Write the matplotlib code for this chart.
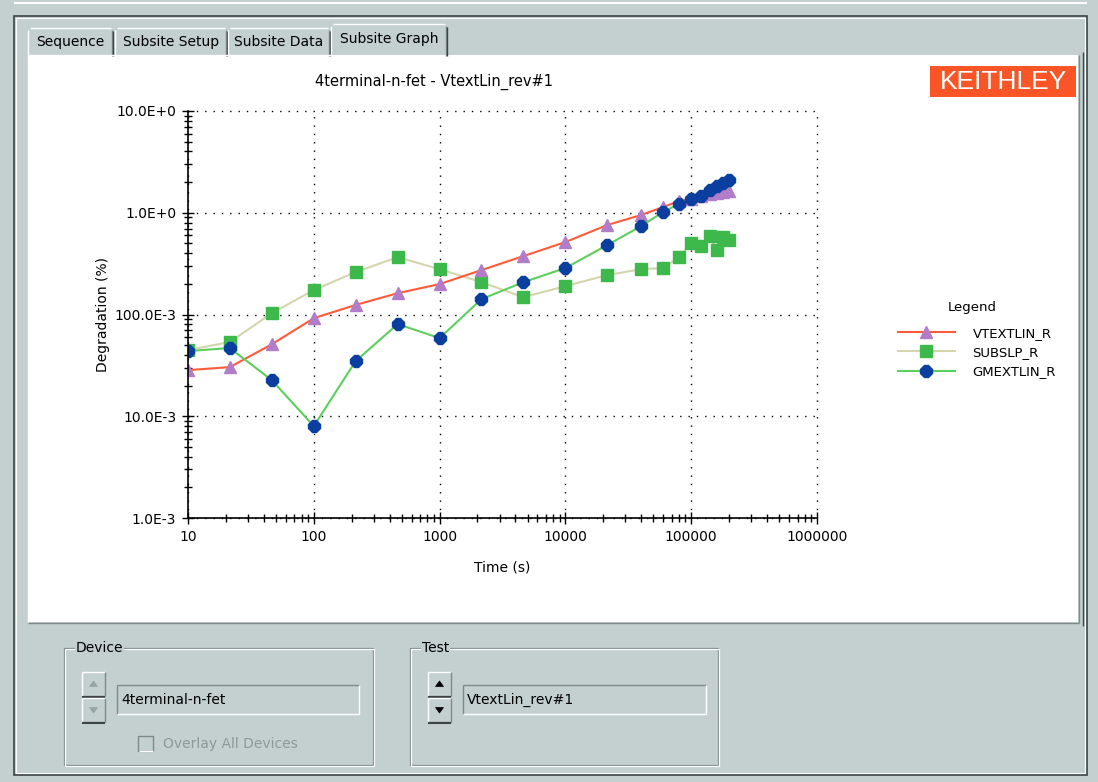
import matplotlib
matplotlib.use("Agg")
import matplotlib.pyplot as plt
from matplotlib.patches import Rectangle, Polygon
from matplotlib.ticker import FixedLocator, LogLocator, NullFormatter

W, H = 1098, 782

# data
TIME_S = [10, 21.5, 46.4, 100, 215, 464, 1000, 2150, 4640, 10000, 21500,
          40000, 60000, 80000, 100000, 120000, 140000, 160000, 180000, 200000]
VTEXTLIN_R = [0.0284, 0.0304, 0.051, 0.092, 0.124, 0.162, 0.199, 0.273, 0.375,
              0.515, 0.757, 0.95, 1.14, 1.30, 1.37, 1.45, 1.52, 1.55, 1.60, 1.63]
SUBSLP_R = [0.0447, 0.0536, 0.103, 0.174, 0.261, 0.366, 0.279, 0.208, 0.148,
            0.19, 0.244, 0.279, 0.286, 0.366, 0.504, 0.471, 0.59, 0.43, 0.577, 0.54]
GMEXTLIN_R = [0.0437, 0.0468, 0.0226, 0.008, 0.0348, 0.0805, 0.0586, 0.1415, 0.208,
              0.286, 0.481, 0.74, 1.02, 1.22, 1.37, 1.46, 1.67, 1.83, 1.96, 2.09]

X_TICKS = [10, 100, 1000, 10000, 100000, 1000000]
X_LABELS = ["10", "100", "1000", "10000", "100000", "1000000"]
Y_TICKS = [1e-3, 1e-2, 1e-1, 1, 10]
Y_LABELS = ["1.0E-3", "10.0E-3", "100.0E-3", "1.0E+0", "10.0E+0"]

GRAY = "#c4d0d0"
SHADOW = "#7e8a8a"
DARK = "#3c4444"
FONT = "DejaVu Sans"


def hline(ax, x0, x1, y, c, lw=1):
    ax.plot([x0, x1], [y, y], color=c, lw=lw, solid_capstyle="butt")


def vline(ax, x, y0, y1, c, lw=1):
    ax.plot([x, x], [y0, y1], color=c, lw=lw, solid_capstyle="butt")


def bevel(ax, x0, y0, x1, y1, raised=True):
    lt, dk = ("white", SHADOW) if raised else (SHADOW, "white")
    hline(ax, x0, x1, y0, lt)
    vline(ax, x0, y0, y1, lt)
    hline(ax, x0, x1, y1, dk)
    vline(ax, x1, y0, y1, dk)


def group_box(ax, x0, y0, x1, y1, label):
    for off, c in ((0, SHADOW), (1.2, "white")):
        ax.add_patch(Rectangle((x0 + off, y0 + off), x1 - x0, y1 - y0,
                               fill=False, ec=c, lw=0.9))
    ax.text(x0 + 12, y0, label, fontsize=10, family=FONT, va="center",
            ha="left", bbox=dict(fc=GRAY, ec="none", pad=0.5))


def spin(ax, x0, y0, enabled):
    c = "black" if enabled else "#98a4a4"
    for top, up in ((y0, True), (y0 + 26, False)):
        ax.add_patch(Rectangle((x0, top), 23, 24, fc=GRAY, ec="none"))
        bevel(ax, x0, top, x0 + 23, top + 24)
        hline(ax, x0, x0 + 23, top + 25, DARK, 1.5)
        cx, cy = x0 + 11.5, top + 12
        if up:
            pts = [(cx - 4, cy + 2.5), (cx + 4, cy + 2.5), (cx, cy - 3)]
        else:
            pts = [(cx - 4, cy - 2.5), (cx + 4, cy - 2.5), (cx, cy + 3)]
        ax.add_patch(Polygon(pts, closed=True, fc=c, ec=c, lw=0.5))


def edit_box(ax, x0, y0, x1, y1, text):
    bevel(ax, x0, y0, x1, y1, raised=False)
    ax.text(x0 + 4, (y0 + y1) / 2, text, fontsize=10, family=FONT,
            va="center", ha="left")


def draw_window(fig):
    bg = fig.add_axes([0, 0, 1, 1])
    bg.set_xlim(0, W)
    bg.set_ylim(H, 0)
    bg.axis("off")
    bg.add_patch(Rectangle((0, 0), W, H, fc=GRAY, ec="none"))

    # outer frame
    bg.add_patch(Rectangle((14, 16), 1073, 759, fill=False, ec=DARK, lw=1.2))
    bg.add_patch(Rectangle((16, 18), 1069, 755, fill=False, ec="white", lw=0.8))
    hline(bg, 14, 1087, 3, "white", 1.5)

    # tabs
    tabs = [("Sequence", 28, 113), ("Subsite Setup", 115, 227),
            ("Subsite Data", 228, 330), ("Subsite Graph", 331, 447)]
    for i, (name, x0, x1) in enumerate(tabs):
        top = 24 if i == 3 else 28
        bg.add_patch(Rectangle((x0, top), x1 - x0, 56 - top, fc=GRAY, ec="none"))
        hline(bg, x0 + 2, x1 - 2, top, "white")
        vline(bg, x0, top + 2, 56, "white")
        vline(bg, x1 - 1, top + 2, 56, SHADOW)
        vline(bg, x1, top + 3, 56, DARK)
        bg.text((x0 + x1) / 2, top + 14.5 if i == 3 else top + 14, name,
                fontsize=10, family=FONT, ha="center", va="center")

    # white panel
    bg.add_patch(Rectangle((28, 55), 1050, 567, fc="white", ec="none"))
    hline(bg, 28, 331, 55, "white")
    vline(bg, 28, 55, 622, "white")
    vline(bg, 1079, 55, 623, SHADOW)
    vline(bg, 1083, 52, 626, DARK)
    hline(bg, 28, 1079, 623, SHADOW)

    # title and logo
    bg.text(434, 82, "4terminal-n-fet - VtextLin_rev#1", fontsize=10.5,
            family=FONT, ha="center", va="center")
    bg.add_patch(Rectangle((930, 66), 146, 31, fc="#fa5526", ec="none"))
    bg.text(1003, 82, "KEITHLEY", fontsize=19, family="Liberation Sans",
            color="white", ha="center", va="center")

    # legend heading
    bg.text(972, 307, "Legend", fontsize=9.5, family=FONT, ha="center", va="center")

    # bottom controls
    group_box(bg, 64, 648, 373, 765, "Device")
    spin(bg, 82, 672, enabled=False)
    edit_box(bg, 117, 685, 359, 714, "4terminal-n-fet")
    bg.add_patch(Rectangle((138, 736), 15, 15, fill=False, ec=SHADOW, lw=1))
    hline(bg, 139, 153, 751, "white")
    bg.text(163, 744, "Overlay All Devices", fontsize=10,
            family=FONT, color="#8d9a9a", ha="left", va="center")

    group_box(bg, 410, 648, 718, 765, "Test")
    spin(bg, 428, 672, enabled=True)
    edit_box(bg, 463, 685, 706, 714, "VtextLin_rev#1")
    return bg


def draw_chart(fig):
    ax = fig.add_axes([188 / W, 1 - 518 / H, 629 / W, 407 / H])
    ax.patch.set_alpha(0)
    ax.set_xscale("log")
    ax.set_yscale("log")

    l2, = ax.plot(TIME_S, SUBSLP_R, color="#d5d5ad", lw=1.5, marker="s",
                  ms=8, mfc="#3cb94a", mec="#3cb94a", label="SUBSLP_R")
    l1, = ax.plot(TIME_S, VTEXTLIN_R, color="#ff5a3a", lw=1.5, marker="^",
                  ms=9, mfc="#b27dc8", mec="#b27dc8", label="VTEXTLIN_R")
    l3, = ax.plot(TIME_S, GMEXTLIN_R, color="#5ccf5c", lw=1.5, marker="8",
                  ms=9, mfc="#0b3f9f", mec="#0b3f9f", label="GMEXTLIN_R")

    ax.set_xlim(10, 1e6)
    ax.set_ylim(1e-3, 10)
    ax.xaxis.set_major_locator(FixedLocator(X_TICKS))
    ax.set_xticklabels(X_LABELS)
    ax.yaxis.set_major_locator(FixedLocator(Y_TICKS))
    ax.set_yticklabels(Y_LABELS)
    for axis in (ax.xaxis, ax.yaxis):
        axis.set_minor_locator(LogLocator(base=10, subs=range(2, 10)))
        axis.set_minor_formatter(NullFormatter())

    ax.tick_params(which="both", direction="inout", color="black", width=1,
                   labelsize=10)
    ax.tick_params(which="major", length=9, pad=4)
    ax.tick_params(which="minor", length=6)
    ax.grid(True, which="major", color="black", linestyle=(0, (1, 5)), lw=1)
    for gl in ax.get_xgridlines() + ax.get_ygridlines():
        gl.set_clip_on(False)

    for s in ("top", "right"):
        ax.spines[s].set_visible(False)
    for s in ("left", "bottom"):
        ax.spines[s].set_linewidth(1.2)

    ax.set_xlabel("Time (s)", fontsize=10, labelpad=12)
    ax.set_ylabel("Degradation (%)", fontsize=10, labelpad=3)

    fig.legend([l1, l2, l3], ["VTEXTLIN_R", "SUBSLP_R", "GMEXTLIN_R"],
               loc="upper left", bbox_to_anchor=(898 / W, 1 - 327 / H),
               frameon=False, fontsize=9.5, handlelength=4.3,
               handletextpad=1.35, labelspacing=0.46, borderaxespad=0,
               borderpad=0)
    return ax


def main():
    plt.rcParams["font.family"] = FONT
    fig = plt.figure(figsize=(W / 100, H / 100), dpi=100)
    draw_window(fig)
    draw_chart(fig)
    fig.savefig("out.png", dpi=100)
    plt.close(fig)
    print("[INFO] Saved out.png")


if __name__ == "__main__":
    main()
